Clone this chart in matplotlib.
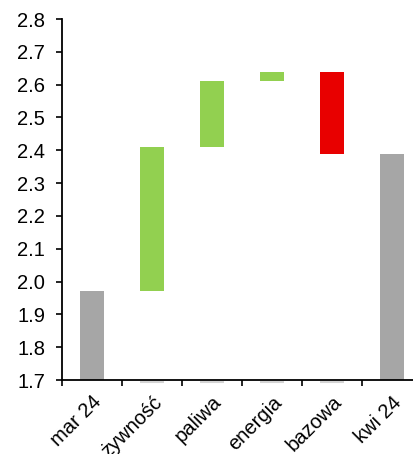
import matplotlib
matplotlib.use("Agg")
import matplotlib.pyplot as plt
import matplotlib.transforms as mtransforms
import numpy as np

plt.rcParams['font.family'] = ['Liberation Sans', 'DejaVu Sans']

categories = ["mar 24", "żywność", "paliwa", "energia", "bazowa", "kwi 24"]
start_value = 1.97
contributions = [0.44, 0.20, 0.03, -0.25]
end_value = 2.39
y_ticks = [1.7, 1.8, 1.9, 2.0, 2.1, 2.2, 2.3, 2.4, 2.5, 2.6, 2.7, 2.8]

GREY = "#A6A6A6"
GREEN = "#92D050"
RED = "#E80000"
FS = 14.5

fig = plt.figure(figsize=(4.14, 4.54), dpi=100)
ax = fig.add_axes([62 / 414, 1 - 380 / 454, 1 - 62 / 414, (380 - 19) / 454])

ymin = y_ticks[0]
x = np.arange(len(categories))
width = 0.4

# total bars rise from the axis floor
ax.bar(x[0], start_value - ymin, bottom=ymin, width=width, color=GREY)
ax.bar(x[-1], end_value - ymin, bottom=ymin, width=width, color=GREY)

# floating bars for each contribution
level = start_value
for i, c in enumerate(contributions, start=1):
    lo = min(level, level + c)
    ax.bar(x[i], abs(c), bottom=lo, width=width,
           color=GREEN if c >= 0 else RED)
    level += c

# faint outline of the hidden base series at the axis floor
shift = mtransforms.offset_copy(ax.transData, fig=fig, x=0, y=-1.5, units='dots')
ax.hlines([ymin] * len(contributions), x[1:-1] - width / 2, x[1:-1] + width / 2,
          colors="#D4D4D4", linewidth=1.5, transform=shift, clip_on=False, zorder=1)

ax.set_ylim(ymin, y_ticks[-1])
ax.set_xlim(-0.5, 5.5 - 8 / 60)
ax.set_yticks(y_ticks)
ax.set_yticklabels([f"{v:.1f}" for v in y_ticks])

# ticks between categories, labels at the centres
ax.set_xticks(np.arange(-0.5, len(categories) - 0.5, 1.0))
ax.set_xticklabels([])
ax.set_xticks(x, minor=True)
labels = ax.set_xticklabels(categories, minor=True, rotation=45, ha='right',
                            va='top', rotation_mode='anchor')
nudge = mtransforms.ScaledTranslation(-4 / 100, -2 / 100, fig.dpi_scale_trans)
for lab in labels:
    lab.set_transform(lab.get_transform() + nudge)
ax.tick_params(axis='x', which='minor', length=0, pad=9, labelsize=FS)
ax.tick_params(axis='x', which='major', direction='out', length=4, width=1.2)
ax.tick_params(axis='y', direction='out', length=4, width=1.2, labelsize=FS, pad=8)

for s in ("top", "right"):
    ax.spines[s].set_visible(False)
for s in ("left", "bottom"):
    ax.spines[s].set_linewidth(1.3)
    ax.spines[s].set_color("black")

fig.savefig("out.png", dpi=100)
